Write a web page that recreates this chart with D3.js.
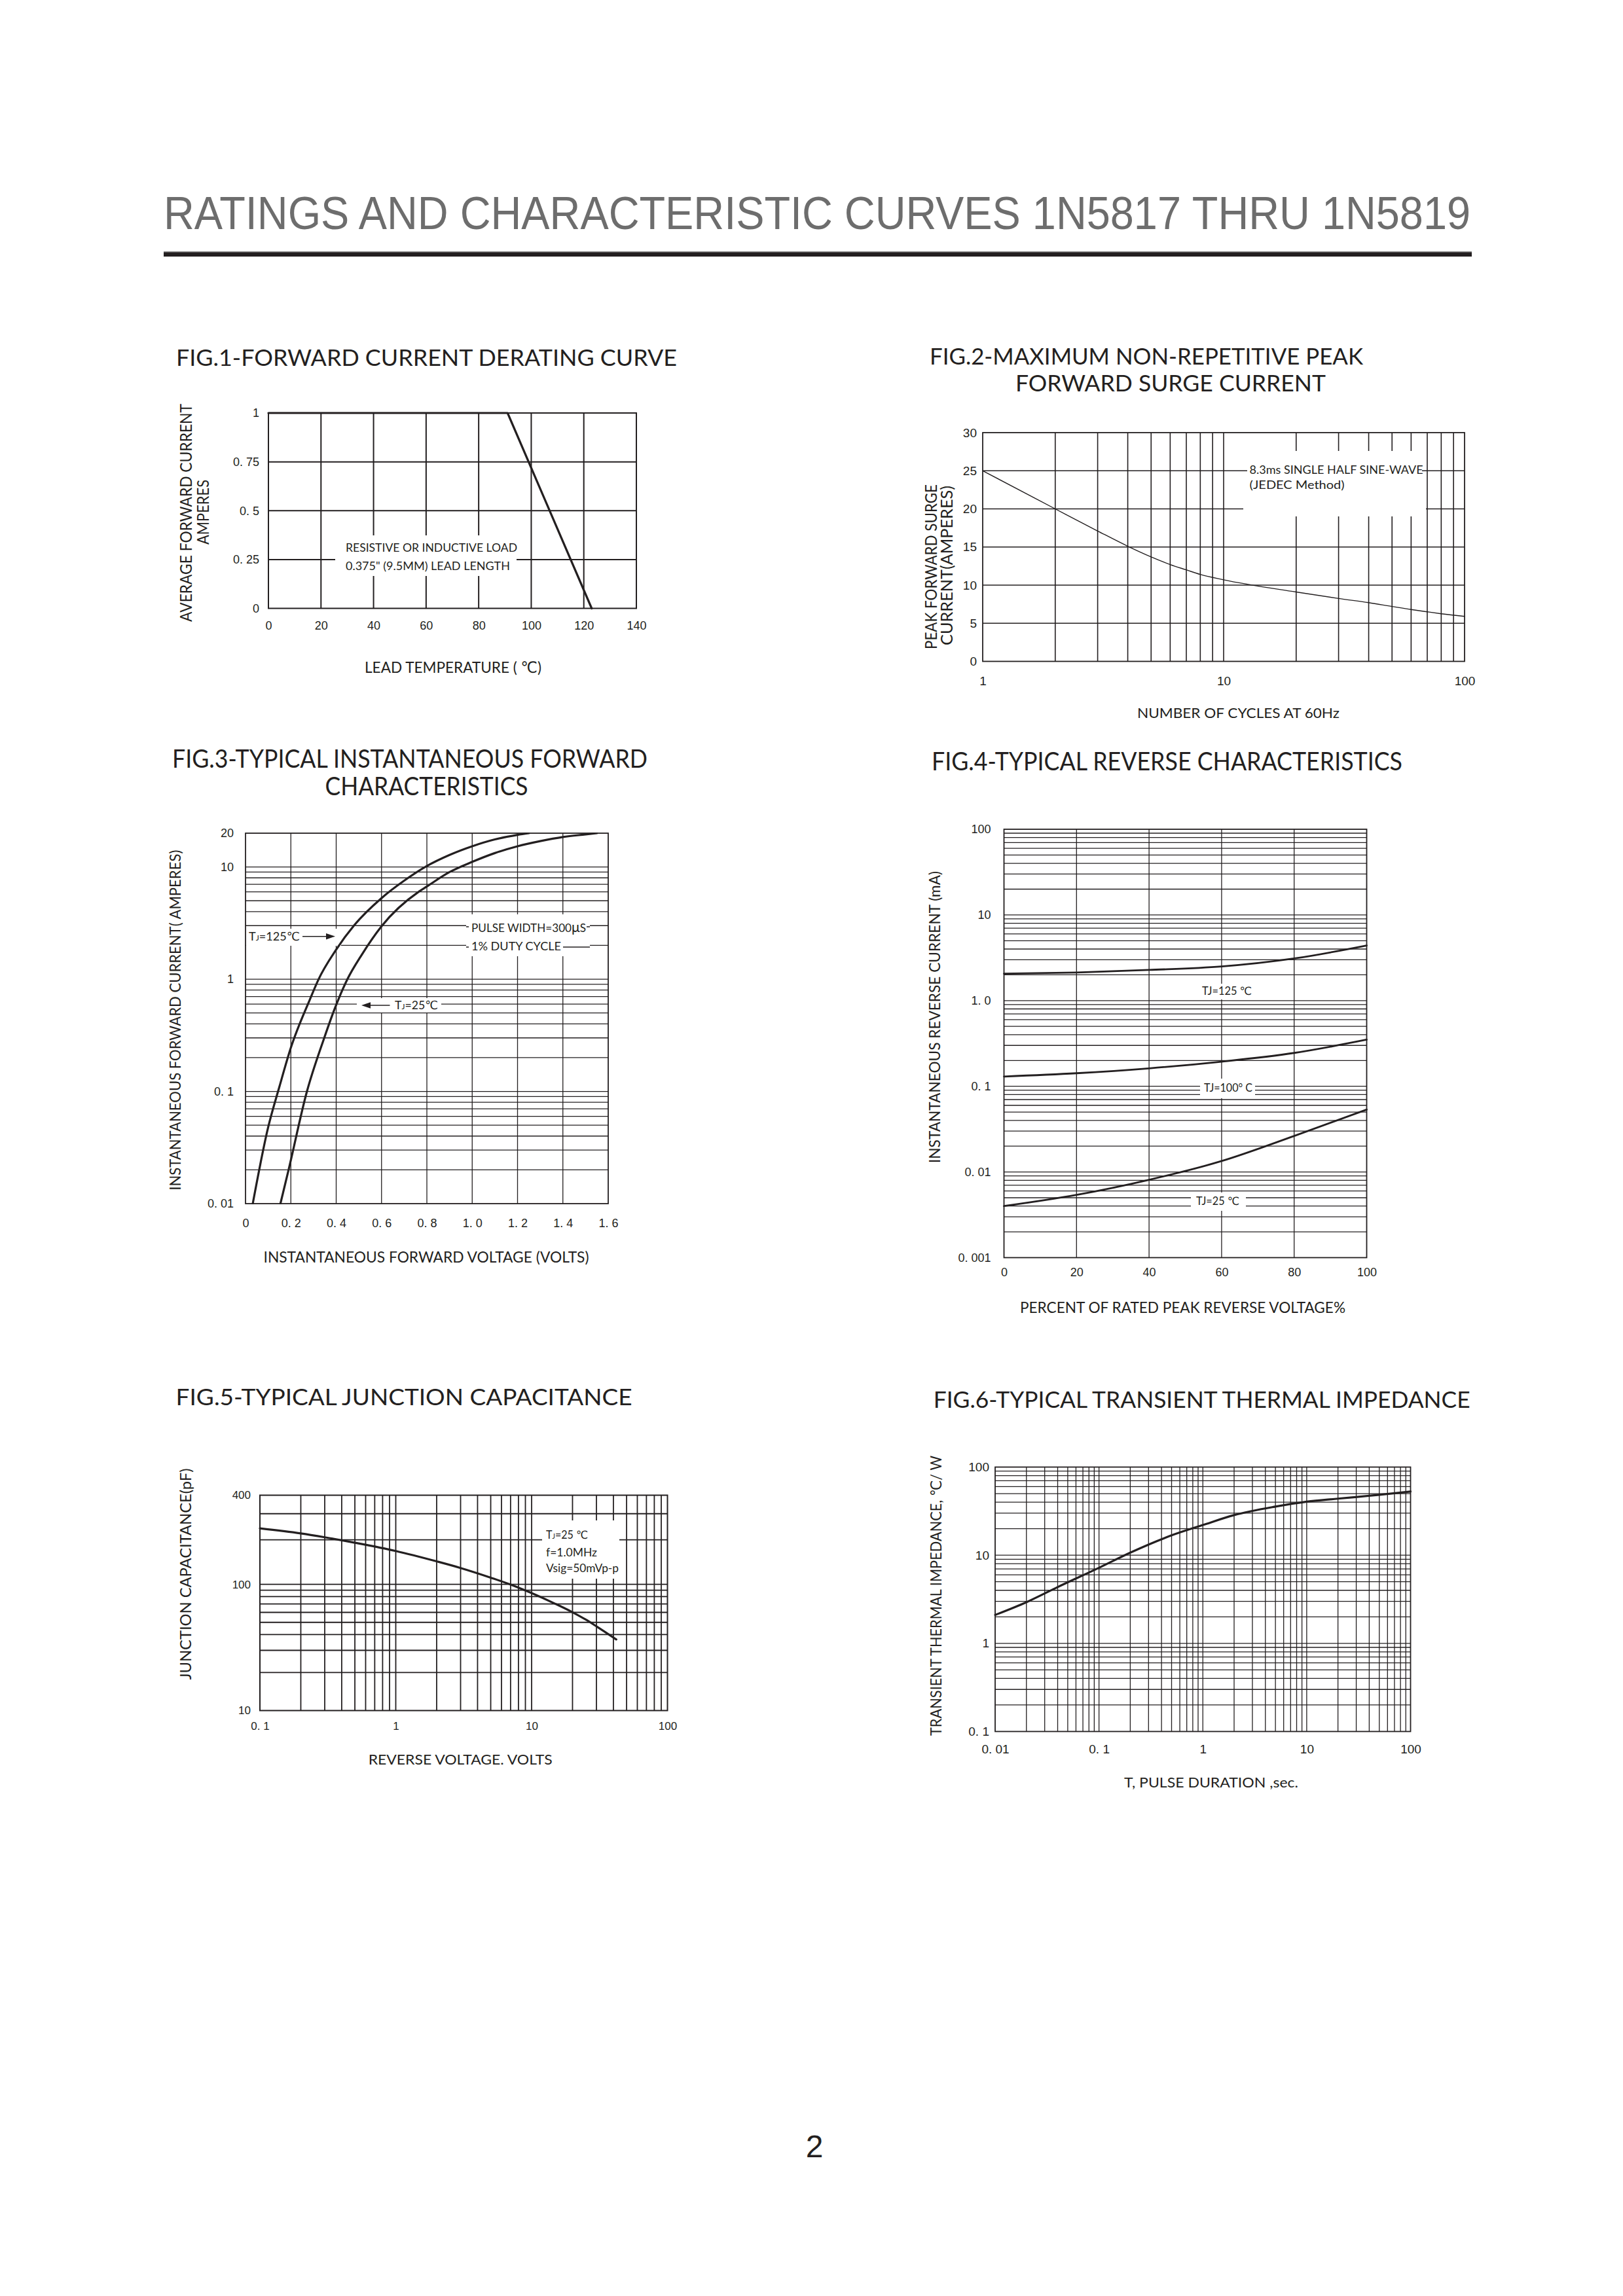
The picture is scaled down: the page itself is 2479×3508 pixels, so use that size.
<!DOCTYPE html>
<html><head><meta charset="utf-8">
<script src="https://cdn.jsdelivr.net/npm/d3@7"></script>
<style>body{margin:0;background:#fff}svg{display:block}</style>
</head><body>
<script>
// ================= DATA =================
const pageTitle = "RATINGS AND CHARACTERISTIC CURVES 1N5817 THRU 1N5819";
const pageNumber = "2";

// Fig.1 forward current derating
const fig1Temp = [0, 91, 123];
const fig1Current = [1, 1, 0];
const fig1XTicks = [0, 20, 40, 60, 80, 100, 120, 140];
const fig1YTicks = [0, 0.25, 0.5, 0.75, 1];
const fig1YLabels = ["0", "0. 25", "0. 5", "0. 75", "1"];

// Fig.2 peak forward surge current
const fig2Cycles = [1, 2, 3, 4, 5, 6, 7, 8, 10, 20, 30, 40, 50, 60, 70, 80, 100];
const fig2Surge  = [25, 20, 17.1, 15.1, 13.7, 12.7, 12.0, 11.4, 10.7, 9.1, 8.25, 7.7, 7.2, 6.8, 6.5, 6.25, 5.9];
const fig2XTicks = [1, 10, 100];
const fig2YTicks = [0, 5, 10, 15, 20, 25, 30];

// Fig.3 instantaneous forward characteristics
const fig3Volt125 = [0.032, 0.1, 0.15, 0.2, 0.284, 0.3225, 0.398, 0.481, 0.6, 0.7, 0.8, 0.9, 1.0, 1.1, 1.2, 1.25];
const fig3Amp125  = [0.01, 0.048, 0.111, 0.245, 0.66, 1.0, 1.81, 3.05, 5.28, 7.55, 10.2, 12.8, 15.3, 17.6, 19.3, 20];
const fig3Volt25  = [0.154, 0.19, 0.271, 0.3466, 0.3918, 0.4496, 0.5131, 0.6, 0.7654, 0.8, 0.9, 1.0, 1.1, 1.2, 1.3, 1.4, 1.5, 1.55];
const fig3Amp25   = [0.01, 0.02, 0.1, 0.297, 0.535, 1.0, 1.654, 2.96, 6.04, 6.7, 9.0, 11.1, 13.3, 15.3, 17, 18.5, 19.5, 20];
const fig3XTicks  = [0, 0.2, 0.4, 0.6, 0.8, 1.0, 1.2, 1.4, 1.6];
const fig3XLabels = ["0", "0. 2", "0. 4", "0. 6", "0. 8", "1. 0", "1. 2", "1. 4", "1. 6"];
const fig3YTicks  = [0.01, 0.1, 1, 10, 20];
const fig3YLabels = ["0. 01", "0. 1", "1", "10", "20"];

// Fig.4 reverse characteristics
const fig4Percent = [0, 20, 40, 60, 80, 100];
const fig4I125 = [2.06, 2.13, 2.28, 2.5, 3.1, 4.4];
const fig4I100 = [0.13, 0.142, 0.162, 0.194, 0.245, 0.35];
const fig4I25  = [0.004, 0.0054, 0.0081, 0.0134, 0.0263, 0.0535];
const fig4XTicks = [0, 20, 40, 60, 80, 100];
const fig4YTicks = [0.001, 0.01, 0.1, 1, 10, 100];
const fig4YLabels = ["0. 001", "0. 01", "0. 1", "1. 0", "10", "100"];

// Fig.5 junction capacitance
const fig5Volt = [0.1, 0.2, 0.3, 0.5, 1, 2, 3, 5, 7, 10, 15, 20, 25, 30, 42];
const fig5Cap  = [239, 221, 208, 191, 168, 143, 129, 111, 99.7, 85.3, 70, 60.1, 52.6, 46.5, 36.6];
const fig5XTicks = [0.1, 1, 10, 100];
const fig5XLabels = ["0. 1", "1", "10", "100"];
const fig5YTicks = [10, 100, 400];

// Fig.6 transient thermal impedance
const fig6Time = [0.01, 0.02, 0.04, 0.1, 0.2, 0.5, 1, 2, 5, 10, 20, 50, 100];
const fig6Z    = [2.1, 2.93, 4.35, 7.2, 10.7, 16.8, 22, 28.5, 35.6, 40.5, 43.8, 48.5, 52.8];
const fig6XTicks = [0.01, 0.1, 1, 10, 100];
const fig6XLabels = ["0. 01", "0. 1", "1", "10", "100"];
const fig6YTicks = [0.1, 1, 10, 100];
const fig6YLabels = ["0. 1", "1", "10", "100"];

// ================= DRAWING =================
const INK = "#231f20";
const FIGFONT = "Lato, 'DejaVu Sans', sans-serif";
const TICKFONT = "'Liberation Sans', Arial, sans-serif";

const svg = d3.select("body").append("svg").attr("width", 2479).attr("height", 3508);
svg.append("rect").attr("width", 2479).attr("height", 3508).attr("fill", "#fff");

function label(g, parts, x, y, o = {}) {
  const t = g.append("text").attr("x", x).attr("y", y)
    .attr("font-family", o.family || FIGFONT)
    .attr("font-size", o.size || 22)
    .attr("fill", o.fill || INK)
    .attr("text-anchor", o.anchor || "start");
  if (o.len) t.attr("textLength", o.len).attr("lengthAdjust", "spacingAndGlyphs");
  if (o.rotate) t.attr("transform", `rotate(-90 ${x} ${y})`);
  if (typeof parts === "string") t.text(parts);
  else parts.forEach(p => {
    if (typeof p === "string") t.append("tspan").text(p);
    else t.append("tspan").attr("font-size", p.size).text(p.t);
  });
  return t;
}
const TJ = (rest, sub) => ["T", {t: "J", size: sub}, rest];

function whiteBox(g, x0, y0, x1, y1) {
  g.append("rect").attr("x", x0).attr("y", y0).attr("width", x1 - x0).attr("height", y1 - y0).attr("fill", "#fff");
}

function grid(g, x, y, xs, ys, gw) {
  const [L, R] = x.range(), yr = y.range(), B = yr[0], T = yr[yr.length - 1];
  g.append("g").selectAll("line").data(xs).join("line")
    .attr("x1", d => x(d)).attr("x2", d => x(d)).attr("y1", T).attr("y2", B)
    .attr("stroke", INK).attr("stroke-width", gw);
  g.append("g").selectAll("line").data(ys).join("line")
    .attr("y1", d => y(d)).attr("y2", d => y(d)).attr("x1", L).attr("x2", R)
    .attr("stroke", INK).attr("stroke-width", gw);
}
function frame(g, x, y, w) {
  const [L, R] = x.range(), yr = y.range(), B = yr[0], T = yr[yr.length - 1];
  g.append("rect").attr("x", L).attr("y", T).attr("width", R - L).attr("height", B - T)
    .attr("fill", "none").attr("stroke", INK).attr("stroke-width", w);
}
function axes(g, x, y, o) {
  const yr = y.range(), B = yr[0];
  const L = x.range()[0];
  const ax = g.append("g").attr("transform", `translate(0,${B})`)
    .call(d3.axisBottom(x).tickValues(o.xt).tickFormat((d, i) => o.xl ? o.xl[i] : String(d))
      .tickSize(0).tickPadding(o.xpad));
  const ay = g.append("g").attr("transform", `translate(${L},0)`)
    .call(d3.axisLeft(y).tickValues(o.yt).tickFormat((d, i) => o.yl ? o.yl[i] : String(d))
      .tickSize(0).tickPadding(o.ypad));
  [ax, ay].forEach(a => {
    a.select(".domain").remove();
    a.attr("font-family", o.family || TICKFONT).attr("font-size", o.fs);
    a.selectAll("text").attr("fill", INK);
  });
}
function curve(g, x, y, xs, ys, w, smooth = true) {
  const pts = xs.map((v, i) => [v, ys[i]]);
  const line = d3.line().x(d => x(d[0])).y(d => y(d[1]));
  if (smooth) line.curve(d3.curveMonotoneX);
  g.append("path").attr("d", line(pts)).attr("fill", "none")
    .attr("stroke", INK).attr("stroke-width", w).attr("stroke-linejoin", "round").attr("stroke-linecap", "round");
}

// ---- Page header ----
label(svg, pageTitle, 250, 350, {family: TICKFONT, size: 71, fill: "#6d6d6d", len: 1996});
svg.append("rect").attr("x", 250).attr("y", 384).attr("width", 1998).attr("height", 2).attr("fill", "#8a8a8a");
svg.append("rect").attr("x", 250).attr("y", 385.5).attr("width", 1998).attr("height", 6.5).attr("fill", INK);

// ---- Fig.1 ----
{
  const g = svg.append("g");
  const x = d3.scaleLinear().domain([0, 140]).range([410, 972]);
  const y = d3.scaleLinear().domain([0, 1]).range([929.5, 631]);
  grid(g, x, y, fig1XTicks.slice(1, -1), fig1YTicks.slice(1, -1), 2);
  frame(g, x, y, 2);
  whiteBox(g, 512, 818, 789, 880);
  label(g, "RESISTIVE OR INDUCTIVE LOAD", 528, 843, {size: 17, len: 262});
  label(g, "0.375\" (9.5MM) LEAD LENGTH", 528, 870.5, {size: 17, len: 251});
  curve(g, x, y, fig1Temp, fig1Current, 3.2, false);
  axes(g, x, y, {xt: fig1XTicks, yt: fig1YTicks, yl: fig1YLabels, fs: 18, xpad: 20, ypad: 14});
  label(g, "FIG.1-FORWARD CURRENT DERATING CURVE", 269, 558.7, {size: 35, len: 765});
  label(g, "LEAD  TEMPERATURE ( ℃)", 557, 1028, {size: 24, len: 270});
  label(g, "AVERAGE FORWARD CURRENT", 293, 783.5, {size: 25, len: 333, rotate: true, anchor: "middle"});
  label(g, "AMPERES", 319, 782.5, {size: 25, len: 99, rotate: true, anchor: "middle"});
}

// ---- Fig.2 ----
{
  const g = svg.append("g");
  const x = d3.scaleLog().domain([1, 100]).range([1501, 2237]);
  const y = d3.scaleLinear().domain([0, 30]).range([1010.5, 661]);
  grid(g, x, y, x.ticks().filter(d => d > 1 && d < 100), fig2YTicks.slice(1, -1), 1.6);
  frame(g, x, y, 1.8);
  whiteBox(g, 1899, 689, 2178, 789);
  g.append("line").attr("x1", 1899).attr("x2", 2178).attr("y1", y(25)).attr("y2", y(25))
    .attr("stroke", INK).attr("stroke-width", 1.6);
  whiteBox(g, 1905, 705, 2172, 732);
  label(g, "8.3ms SINGLE HALF SINE-WAVE", 1908.6, 724.4, {size: 17, len: 265});
  label(g, "(JEDEC Method)", 1908.6, 747, {size: 17, len: 145});
  curve(g, x, y, fig2Cycles, fig2Surge, 1.4);
  axes(g, x, y, {xt: fig2XTicks, yt: fig2YTicks, fs: 19, xpad: 23.5, ypad: 9});
  label(g, "FIG.2-MAXIMUM NON-REPETITIVE PEAK", 1420, 557, {size: 35, len: 662});
  label(g, "FORWARD SURGE CURRENT", 1551, 598, {size: 35, len: 474});
  label(g, "NUMBER OF CYCLES AT 60Hz", 1737, 1096.5, {size: 22, len: 309});
  label(g, "PEAK FORWARD SURGE", 1431, 866, {size: 25, len: 252, rotate: true, anchor: "middle"});
  label(g, "CURRENT(AMPERES)", 1455, 864, {size: 25, len: 244, rotate: true, anchor: "middle"});
}

// ---- Fig.3 ----
{
  const g = svg.append("g");
  const x = d3.scaleLinear().domain([0, 1.6]).range([375, 929]);
  const y = d3.scaleLog().domain([0.01, 20]).range([1839, 1273]);
  grid(g, x, y, fig3XTicks.slice(1, -1), y.ticks().filter(d => d > 0.01 && d < 20), 1.3);
  frame(g, x, y, 1.8);
  // annotations
  whiteBox(g, 376, 1419, 521, 1445);
  label(g, TJ("=125℃", 12), 380, 1437, {size: 18, len: 78});
  g.append("line").attr("x1", 462).attr("x2", 500).attr("y1", 1430.7).attr("y2", 1430.7).attr("stroke", INK).attr("stroke-width", 1.5);
  g.append("path").attr("d", "M512,1430.7 L498,1426 L498,1435.4 Z").attr("fill", INK);
  whiteBox(g, 712, 1397, 901, 1461);
  [1416, 1447].forEach(yy => {
    g.append("line").attr("x1", 712).attr("x2", 901).attr("y1", yy).attr("y2", yy).attr("stroke", INK).attr("stroke-width", 1.3);
  });
  whiteBox(g, 716, 1405, 896, 1430);
  whiteBox(g, 716, 1435, 860, 1459);
  label(g, ["PULSE WIDTH=300", {t: "μ", size: 21}, "S"], 720, 1424, {size: 17, len: 175});
  label(g, "1% DUTY CYCLE", 720, 1452, {size: 17, len: 137});
  whiteBox(g, 545, 1525, 674, 1547);
  g.append("line").attr("x1", 564).attr("x2", 595.5).attr("y1", 1536).attr("y2", 1536).attr("stroke", INK).attr("stroke-width", 1.5);
  g.append("path").attr("d", "M552,1536 L566,1531.3 L566,1540.7 Z").attr("fill", INK);
  label(g, TJ("=25℃", 12), 603, 1542, {size: 18, len: 66});
  // curves
  g.append("clipPath").attr("id", "c3").append("rect").attr("x", 375).attr("y", 1272).attr("width", 554).attr("height", 568);
  const cg = g.append("g").attr("clip-path", "url(#c3)");
  curve(cg, x, y, fig3Volt125, fig3Amp125, 3.2);
  curve(cg, x, y, fig3Volt25, fig3Amp25, 3.2);
  axes(g, x, y, {xt: fig3XTicks, xl: fig3XLabels, yt: fig3YTicks, yl: fig3YLabels, fs: 18, xpad: 23, ypad: 18});
  label(g, "FIG.3-TYPICAL INSTANTANEOUS FORWARD", 263, 1173, {size: 38, len: 726});
  label(g, "CHARACTERISTICS", 496.5, 1215, {size: 38, len: 310});
  label(g, "INSTANTANEOUS FORWARD VOLTAGE (VOLTS)", 402.5, 1929, {size: 23, len: 497});
  label(g, "INSTANTANEOUS FORWARD CURRENT( AMPERES)", 276, 1558.7, {size: 24, len: 520, rotate: true, anchor: "middle"});
}

// ---- Fig.4 ----
{
  const g = svg.append("g");
  const x = d3.scaleLinear().domain([0, 100]).range([1533.5, 2087.5]);
  const y = d3.scaleLog().domain([0.001, 100]).range([1921.5, 1267]);
  grid(g, x, y, fig4XTicks.slice(1, -1), y.ticks().filter(d => d > 0.001 && d < 100), 1.3);
  frame(g, x, y, 1.8);
  whiteBox(g, 1830, 1503, 1916, 1527);
  label(g, "TJ=125 ℃", 1836, 1519.5, {size: 17, len: 76});
  whiteBox(g, 1833, 1648, 1917, 1678);
  label(g, "TJ=100° C", 1839, 1668, {size: 17, len: 74});
  whiteBox(g, 1819, 1822, 1903, 1850);
  label(g, "TJ=25 ℃", 1827, 1841, {size: 17, len: 66});
  curve(g, x, y, fig4Percent, fig4I125, 2.8);
  curve(g, x, y, fig4Percent, fig4I100, 2.8);
  curve(g, x, y, fig4Percent, fig4I25, 2.8);
  axes(g, x, y, {xt: fig4XTicks, yt: fig4YTicks, yl: fig4YLabels, fs: 18, xpad: 16, ypad: 20});
  label(g, "FIG.4-TYPICAL REVERSE CHARACTERISTICS", 1423, 1177, {size: 38, len: 719});
  label(g, "PERCENT OF RATED PEAK REVERSE VOLTAGE%", 1558, 2006, {size: 23, len: 497});
  label(g, "INSTANTANEOUS REVERSE CURRENT  (mA)", 1436, 1554, {size: 23, len: 446, rotate: true, anchor: "middle"});
}

// ---- Fig.5 ----
{
  const g = svg.append("g");
  const B = 2613.5, T = 2284.5;
  const x = d3.scaleLog().domain([0.1, 100]).range([397, 1019.5]);
  const y = d3.scaleLog().domain([10, 100, 400]).range([B, B - 0.586 * (B - T), T]);
  grid(g, x, y, x.ticks().filter(d => d > 0.1 && d < 100), y.ticks().filter(d => d > 10 && d < 400), 1.8);
  frame(g, x, y, 2);
  whiteBox(g, 828, 2323, 946, 2412);
  label(g, TJ("=25 ℃", 11), 834, 2350.7, {size: 17, len: 64});
  label(g, "f=1.0MHz", 834, 2378, {size: 17, len: 78});
  label(g, "Vsig=50mVp-p", 834, 2401.7, {size: 17, len: 111});
  curve(g, x, y, fig5Volt, fig5Cap, 3.2);
  axes(g, x, y, {xt: fig5XTicks, xl: fig5XLabels, yt: fig5YTicks, fs: 17, xpad: 17, ypad: 14});
  label(g, "FIG.5-TYPICAL JUNCTION CAPACITANCE", 268.6, 2147, {size: 35, len: 697});
  label(g, "REVERSE VOLTAGE. VOLTS", 562.7, 2696, {size: 22, len: 281});
  label(g, "JUNCTION CAPACITANCE(pF)", 292, 2405, {size: 24, len: 323, rotate: true, anchor: "middle"});
}

// ---- Fig.6 ----
{
  const g = svg.append("g");
  const x = d3.scaleLog().domain([0.01, 100]).range([1520, 2154.5]);
  const y = d3.scaleLog().domain([0.1, 100]).range([2645.5, 2241.5]);
  grid(g, x, y, x.ticks().filter(d => d > 0.01 && d < 100), y.ticks().filter(d => d > 0.1 && d < 100), 1.3);
  frame(g, x, y, 1.8);
  curve(g, x, y, fig6Time, fig6Z, 3.2);
  axes(g, x, y, {xt: fig6XTicks, xl: fig6XLabels, yt: fig6YTicks, yl: fig6YLabels, fs: 19, xpad: 20.5, ypad: 9});
  label(g, "FIG.6-TYPICAL TRANSIENT THERMAL IMPEDANCE", 1425.7, 2150.8, {size: 35, len: 820});
  label(g, "T, PULSE DURATION ,sec.", 1717, 2731, {size: 22, len: 266});
  label(g, "TRANSIENT THERMAL IMPEDANCE, ℃/ W", 1438, 2438, {size: 23, len: 428, rotate: true, anchor: "middle"});
}

// ---- page number ----
label(svg, pageNumber, 1244, 3296, {family: TICKFONT, size: 48, anchor: "middle"});
</script>
</body></html>
